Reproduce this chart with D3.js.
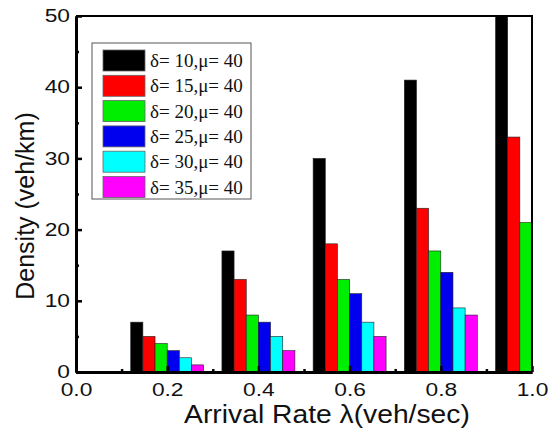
<!DOCTYPE html>
<html>
<head>
<meta charset="utf-8">
<script src="https://cdn.jsdelivr.net/npm/d3@7"></script>
<style>
  body { margin: 0; background: #fff; }
</style>
</head>
<body>
<div id="chart"></div>
<script>
// arrival rates (x positions) and density per series
var rates = [0.2, 0.4, 0.6, 0.8, 1.0];
var deltas = [10, 15, 20, 25, 30, 35];
var mu = 40;
var d10 = [7, 17, 30, 41, 52];
var d15 = [5, 13, 18, 23, 33];
var d20 = [4, 8, 13, 17, 21];
var d25 = [3, 7, 11, 14, null];
var d30 = [2, 5, 7, 9, null];
var d35 = [1, 3, 5, 8, null];
var colors = ["#000000", "#ff0000", "#00ee00", "#0000ee", "#00ffff", "#ff00ff"];
var xTicks = [0.0, 0.2, 0.4, 0.6, 0.8, 1.0];
var yTicks = [0, 10, 20, 30, 40, 50];

var series = [d10, d15, d20, d25, d30, d35];

var width = 552, height = 436;
var margin = {left: 76, right: 20, top: 16, bottom: 64};
var sans = "Liberation Sans, Arial, sans-serif";

var svg = d3.select("#chart").append("svg")
  .attr("width", width)
  .attr("height", height);

var x = d3.scaleLinear().domain([0, 1]).range([margin.left, width - margin.right]);
var y = d3.scaleLinear().domain([0, 50]).range([height - margin.bottom, margin.top]);

// bar group width in data units
var groupW = 0.16;
var barW = groupW / deltas.length;

svg.append("clipPath").attr("id", "plotclip")
  .append("rect")
  .attr("x", x(0)).attr("y", y(50))
  .attr("width", x(1) - x(0)).attr("height", y(0) - y(50));

var bars = svg.append("g").attr("clip-path", "url(#plotclip)");

series.forEach(function(vals, i) {
  var pts = vals.map(function(v, j) { return {rate: rates[j], v: v}; })
    .filter(function(d) { return d.v !== null; });
  bars.selectAll(".s" + i)
    .data(pts)
    .enter()
    .append("rect")
    .attr("class", "s" + i)
    .attr("x", function(d) { return x(d.rate - groupW / 2 + i * barW); })
    .attr("width", x(barW) - x(0))
    .attr("y", function(d) { return y(d.v); })
    .attr("height", function(d) { return y(0) - y(d.v); })
    .attr("fill", colors[i])
    .attr("stroke", "#222")
    .attr("stroke-width", 0.6);
});

// axes
var xAxis = d3.axisBottom(x).tickValues(xTicks).tickFormat(d3.format(".1f")).tickSizeInner(-6).tickSizeOuter(0).tickPadding(12);
var xMinor = d3.axisBottom(x).tickValues([0.1, 0.3, 0.5, 0.7, 0.9]).tickFormat("").tickSizeInner(-3).tickSizeOuter(0);
var yAxis = d3.axisLeft(y).tickValues(yTicks).tickSizeInner(-6).tickSizeOuter(0).tickPadding(6);
var yMinor = d3.axisLeft(y).tickValues([5, 15, 25, 35, 45]).tickFormat("").tickSizeInner(-3).tickSizeOuter(0);

function styleAxis(g) {
  g.selectAll("path").attr("stroke", "#000").attr("stroke-width", 3);
  g.selectAll("line").attr("stroke", "#000").attr("stroke-width", 2.5);
  g.selectAll("text").attr("font-family", sans)
    .attr("font-size", 17.5).attr("fill", "#111");
}

// widen text horizontally, the picture is stretched
function stretch(sel, k) {
  sel.each(function() {
    var w = this.getComputedTextLength();
    d3.select(this).attr("textLength", w * k).attr("lengthAdjust", "spacingAndGlyphs");
  });
}

svg.append("g").attr("transform", "translate(0," + y(0) + ")").call(xMinor).call(styleAxis);
svg.append("g").attr("transform", "translate(" + x(0) + ",0)").call(yMinor).call(styleAxis);
var gx = svg.append("g").attr("transform", "translate(0," + y(0) + ")").call(xAxis).call(styleAxis);
var gy = svg.append("g").attr("transform", "translate(" + x(0) + ",0)").call(yAxis).call(styleAxis);
stretch(gx.selectAll("text"), 1.3);
stretch(gy.selectAll("text"), 1.3);

// top and right frame
svg.append("path")
  .attr("d", "M" + x(0) + "," + y(50) + "H" + x(1) + "V" + y(0))
  .attr("fill", "none").attr("stroke", "#000").attr("stroke-width", 2);

// axis titles
var xt = svg.append("text")
  .attr("x", 327)
  .attr("y", 423)
  .attr("text-anchor", "middle")
  .attr("font-family", sans)
  .attr("font-size", 25)
  .attr("fill", "#111")
  .text("Arrival Rate λ(veh/sec)");
stretch(xt, 1.13);

svg.append("text")
  .attr("transform", "translate(34," + 206 + ") rotate(-90)")
  .attr("text-anchor", "middle")
  .attr("font-family", sans)
  .attr("font-size", 25)
  .attr("fill", "#111")
  .text("Density (veh/km)");

// legend
var legend = svg.append("g").attr("transform", "translate(92,43)");
legend.append("rect")
  .attr("width", 159).attr("height", 156)
  .attr("fill", "#fff").attr("stroke", "#555").attr("stroke-width", 1);

var items = legend.selectAll(".item")
  .data(deltas)
  .enter()
  .append("g")
  .attr("class", "item")
  .attr("transform", function(d, i) { return "translate(11," + (7 + i * 25.3) + ")"; });

items.append("rect")
  .attr("width", 42).attr("height", 21)
  .attr("fill", function(d, i) { return colors[i]; })
  .attr("stroke", "#666").attr("stroke-width", 0.8);

items.append("text")
  .attr("x", 47).attr("y", 17)
  .attr("font-family", "Liberation Serif, Times New Roman, serif")
  .attr("font-size", 19)
  .attr("fill", "#111")
  .text(function(d) { return "δ= " + d + ",μ= " + mu; });
</script>
</body>
</html>
